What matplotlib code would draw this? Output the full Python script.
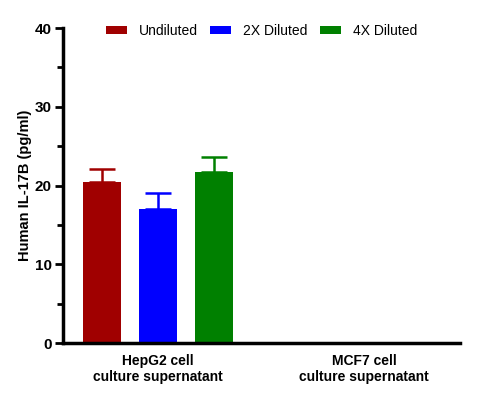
import numpy as np
import matplotlib.pyplot as plt
from matplotlib.ticker import MultipleLocator

plt.rcParams['font.family'] = ['Liberation Sans', 'DejaVu Sans']

groups = ['HepG2 cell\nculture supernatant', 'MCF7 cell\nculture supernatant']
series = ['Undiluted', '2X Diluted', '4X Diluted']
colors = ['#a00000', '#0000ff', '#008000']
means = [
    [20.4, np.nan],
    [17.0, np.nan],
    [21.7, np.nan],
]
errors = [
    [1.7, np.nan],
    [2.05, np.nan],
    [1.9, np.nan],
]

fig = plt.figure(figsize=(5.04, 4.01), dpi=100)
ax = fig.add_axes([0.125, 0.1446, 0.788, 0.7854])

x = np.arange(len(groups))
width = 0.184
offsets = [-0.272, 0, 0.272]
for name, col, m, e, off in zip(series, colors, means, errors, offsets):
    ax.bar(x + off, m, width, color=col, label=name, zorder=2)
    ax.errorbar(x + off, m, yerr=[np.zeros(len(e)), e], fmt='none',
                ecolor=col, elinewidth=1.8, capsize=9.5, capthick=1.8, zorder=1)

ax.set_xlim(-0.46, 1.466)
ax.set_ylim(0, 40)
ax.yaxis.set_major_locator(MultipleLocator(10))
ax.yaxis.set_minor_locator(MultipleLocator(5))
ax.set_xticks(x)
ax.set_xticklabels(groups, fontsize=10, fontweight='bold')
ax.tick_params(axis='x', length=0, pad=8)
ax.tick_params(axis='y', which='major', length=6, width=2, labelsize=11, pad=2)
ax.tick_params(axis='y', which='minor', length=4, width=2)
for lab in ax.get_yticklabels():
    lab.set_fontweight('bold')
ax.set_ylabel('Human IL-17B (pg/ml)', fontsize=10.5, fontweight='bold', labelpad=2)

for s in ['top', 'right']:
    ax.spines[s].set_visible(False)
for s in ['left', 'bottom']:
    ax.spines[s].set_linewidth(2.5)

ax.legend(loc='upper center', bbox_to_anchor=(0.5, 1.052), ncol=3, frameon=False,
          fontsize=10, handlelength=1.5, handleheight=0.5, columnspacing=0.9,
          handletextpad=0.85)

fig.savefig('out.png', dpi=100)
